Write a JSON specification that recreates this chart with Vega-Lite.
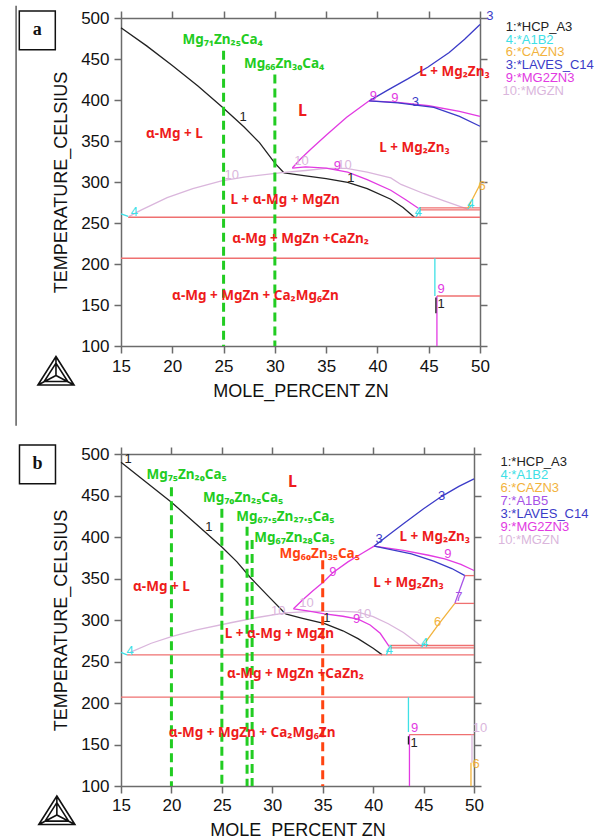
{
"$schema":"https://vega.github.io/schema/vega-lite/v6.json",
"padding":{"left":15,"top":5,"right":0,"bottom":0},
"background":"white",
"bounds":"flush",
"spacing":108,
"datasets":{
"ca":[
{"s":"A1","p":"HCP","x":15,"T":488},{"s":"A1","p":"HCP","x":17.5,"T":466},{"s":"A1","p":"HCP","x":20,"T":442},{"s":"A1","p":"HCP","x":22.5,"T":417},{"s":"A1","p":"HCP","x":25,"T":390},{"s":"A1","p":"HCP","x":27,"T":367},{"s":"A1","p":"HCP","x":28.5,"T":348},{"s":"A1","p":"HCP","x":30,"T":323},{"s":"A1","p":"HCP","x":30.9,"T":311},
{"s":"A2","p":"HCP","x":30.9,"T":311},{"s":"A2","p":"HCP","x":33,"T":307.5},{"s":"A2","p":"HCP","x":35,"T":304},{"s":"A2","p":"HCP","x":37.1,"T":299.5},{"s":"A2","p":"HCP","x":39,"T":292},{"s":"A2","p":"HCP","x":41.3,"T":279},{"s":"A2","p":"HCP","x":42.5,"T":269},{"s":"A2","p":"HCP","x":43.6,"T":257},
{"s":"A3","p":"MG2ZN3","x":31.7,"T":317},{"s":"A3","p":"MG2ZN3","x":32.5,"T":328},{"s":"A3","p":"MG2ZN3","x":33.5,"T":340},{"s":"A3","p":"MG2ZN3","x":35,"T":357},{"s":"A3","p":"MG2ZN3","x":37,"T":379},{"s":"A3","p":"MG2ZN3","x":39.2,"T":399},
{"s":"A4","p":"LAVES","x":39.2,"T":399},{"s":"A4","p":"LAVES","x":41,"T":412},{"s":"A4","p":"LAVES","x":43,"T":426},{"s":"A4","p":"LAVES","x":44.9,"T":440},{"s":"A4","p":"LAVES","x":47,"T":458},{"s":"A4","p":"LAVES","x":48.5,"T":474},{"s":"A4","p":"LAVES","x":50,"T":492},
{"s":"A5","p":"MG2ZN3","x":39.2,"T":399},{"s":"A5","p":"MG2ZN3","x":42,"T":397},{"s":"A5","p":"MG2ZN3","x":45,"T":393},{"s":"A5","p":"MG2ZN3","x":48,"T":386},{"s":"A5","p":"MG2ZN3","x":50,"T":380},
{"s":"A6","p":"LAVES","x":39.2,"T":399},{"s":"A6","p":"LAVES","x":42,"T":396.5},{"s":"A6","p":"LAVES","x":45.5,"T":391},{"s":"A6","p":"LAVES","x":48,"T":380},{"s":"A6","p":"LAVES","x":50,"T":368},
{"s":"A8","p":"MGZN","x":15.8,"T":258},{"s":"A8","p":"MGZN","x":17,"T":266},{"s":"A8","p":"MGZN","x":19.5,"T":281},{"s":"A8","p":"MGZN","x":22,"T":292},{"s":"A8","p":"MGZN","x":24.8,"T":301.5},{"s":"A8","p":"MGZN","x":27,"T":306},{"s":"A8","p":"MGZN","x":30.9,"T":311.7},{"s":"A8","p":"MGZN","x":33,"T":314},{"s":"A8","p":"MGZN","x":35,"T":316.5},{"s":"A8","p":"MGZN","x":37,"T":316.5},{"s":"A8","p":"MGZN","x":39,"T":312},{"s":"A8","p":"MGZN","x":41.3,"T":305},{"s":"A8","p":"MGZN","x":42.3,"T":297},{"s":"A8","p":"MGZN","x":44.5,"T":286},{"s":"A8","p":"MGZN","x":46.5,"T":277},{"s":"A8","p":"MGZN","x":48.8,"T":267},
{"s":"A7","p":"MG2ZN3","x":31.7,"T":317},{"s":"A7","p":"MG2ZN3","x":33,"T":318.5},{"s":"A7","p":"MG2ZN3","x":35,"T":317},{"s":"A7","p":"MG2ZN3","x":37.1,"T":312},{"s":"A7","p":"MG2ZN3","x":39,"T":303},{"s":"A7","p":"MG2ZN3","x":41.3,"T":290},{"s":"A7","p":"MG2ZN3","x":42.8,"T":278},{"s":"A7","p":"MG2ZN3","x":44.1,"T":267},
{"s":"A9","p":"tie","x":15.7,"T":257},{"s":"A9","p":"tie","x":50,"T":257},
{"s":"A10","p":"tie","x":15,"T":207},{"s":"A10","p":"tie","x":50,"T":207},
{"s":"A11","p":"tie","x":44.1,"T":266},{"s":"A11","p":"tie","x":50,"T":266},
{"s":"A12","p":"tie","x":44.1,"T":268.5},{"s":"A12","p":"tie","x":50,"T":268.5},
{"s":"A13","p":"tie","x":45.8,"T":161},{"s":"A13","p":"tie","x":50,"T":161},
{"s":"A14","p":"A1B2","x":45.6,"T":207},{"s":"A14","p":"A1B2","x":45.6,"T":161},
{"s":"A15","p":"MG2ZN3","x":45.8,"T":161},{"s":"A15","p":"MG2ZN3","x":45.8,"T":100},
{"s":"A16","p":"HCP","x":45.7,"T":159},{"s":"A16","p":"HCP","x":45.7,"T":140},
{"s":"A17","p":"A1B2","x":15,"T":261},{"s":"A17","p":"A1B2","x":15.7,"T":258},
{"s":"A18","p":"A1B2","x":43.75,"T":257.5},{"s":"A18","p":"A1B2","x":44.2,"T":266},
{"s":"A19","p":"A1B2","x":48.8,"T":267},{"s":"A19","p":"A1B2","x":49.3,"T":273},
{"s":"A20","p":"CAZN3","x":48.8,"T":268},{"s":"A20","p":"CAZN3","x":50,"T":297}
],
"cb":[
{"s":"B1","p":"HCP","x":15,"T":490},{"s":"B1","p":"HCP","x":17.5,"T":466},{"s":"B1","p":"HCP","x":20,"T":442},{"s":"B1","p":"HCP","x":22.5,"T":415},{"s":"B1","p":"HCP","x":25,"T":388},{"s":"B1","p":"HCP","x":26.5,"T":370},{"s":"B1","p":"HCP","x":27.8,"T":351.5},{"s":"B1","p":"HCP","x":29.5,"T":330},{"s":"B1","p":"HCP","x":31.3,"T":307.5},
{"s":"B2","p":"HCP","x":31.3,"T":307.5},{"s":"B2","p":"HCP","x":33,"T":302},{"s":"B2","p":"HCP","x":35.2,"T":295.5},{"s":"B2","p":"HCP","x":37,"T":287},{"s":"B2","p":"HCP","x":38.5,"T":277.5},{"s":"B2","p":"HCP","x":40,"T":266},{"s":"B2","p":"HCP","x":40.9,"T":258},
{"s":"B3","p":"MG2ZN3","x":32.1,"T":313.5},{"s":"B3","p":"MG2ZN3","x":33,"T":324},{"s":"B3","p":"MG2ZN3","x":34,"T":335},{"s":"B3","p":"MG2ZN3","x":35.1,"T":346},{"s":"B3","p":"MG2ZN3","x":36,"T":357},{"s":"B3","p":"MG2ZN3","x":37.5,"T":370},{"s":"B3","p":"MG2ZN3","x":39,"T":381},{"s":"B3","p":"MG2ZN3","x":40.1,"T":389},
{"s":"B4","p":"LAVES","x":40.1,"T":389},{"s":"B4","p":"LAVES","x":41.5,"T":402},{"s":"B4","p":"LAVES","x":43,"T":416},{"s":"B4","p":"LAVES","x":45,"T":434},{"s":"B4","p":"LAVES","x":46.8,"T":449},{"s":"B4","p":"LAVES","x":48.5,"T":461},{"s":"B4","p":"LAVES","x":50,"T":470},
{"s":"B5","p":"MG2ZN3","x":40.1,"T":389},{"s":"B5","p":"MG2ZN3","x":43,"T":384},{"s":"B5","p":"MG2ZN3","x":45.5,"T":378},{"s":"B5","p":"MG2ZN3","x":47.1,"T":373.6},{"s":"B5","p":"MG2ZN3","x":48.7,"T":367},{"s":"B5","p":"MG2ZN3","x":50,"T":359.6},
{"s":"B6","p":"LAVES","x":40.1,"T":389},{"s":"B6","p":"LAVES","x":43.8,"T":379.7},{"s":"B6","p":"LAVES","x":46,"T":371},{"s":"B6","p":"LAVES","x":47.8,"T":362},{"s":"B6","p":"LAVES","x":49.1,"T":353.5},
{"s":"B7","p":"A1B5","x":49.1,"T":353.5},{"s":"B7","p":"A1B5","x":48.1,"T":320},
{"s":"B8","p":"CAZN3","x":48.1,"T":320},{"s":"B8","p":"CAZN3","x":46.5,"T":295},{"s":"B8","p":"CAZN3","x":45,"T":270},
{"s":"B10","p":"MGZN","x":15.9,"T":261},{"s":"B10","p":"MGZN","x":18,"T":272},{"s":"B10","p":"MGZN","x":20,"T":280},{"s":"B10","p":"MGZN","x":22.5,"T":288},{"s":"B10","p":"MGZN","x":26,"T":297},{"s":"B10","p":"MGZN","x":28.5,"T":303},{"s":"B10","p":"MGZN","x":31.3,"T":308.5},{"s":"B10","p":"MGZN","x":34,"T":310.5},{"s":"B10","p":"MGZN","x":37,"T":310.5},{"s":"B10","p":"MGZN","x":38.5,"T":309.5},{"s":"B10","p":"MGZN","x":40,"T":304},{"s":"B10","p":"MGZN","x":41.5,"T":295.5},{"s":"B10","p":"MGZN","x":43,"T":285},{"s":"B10","p":"MGZN","x":44,"T":276},{"s":"B10","p":"MGZN","x":44.8,"T":268},
{"s":"B9","p":"MG2ZN3","x":32.1,"T":313.5},{"s":"B9","p":"MG2ZN3","x":33.5,"T":311},{"s":"B9","p":"MG2ZN3","x":35.2,"T":307.5},{"s":"B9","p":"MG2ZN3","x":37,"T":304.5},{"s":"B9","p":"MG2ZN3","x":38.5,"T":301},{"s":"B9","p":"MG2ZN3","x":39.7,"T":294},{"s":"B9","p":"MG2ZN3","x":40.7,"T":284},{"s":"B9","p":"MG2ZN3","x":41.6,"T":268},
{"s":"B11","p":"tie","x":15.6,"T":258},{"s":"B11","p":"tie","x":50,"T":258},
{"s":"B12","p":"tie","x":15,"T":207},{"s":"B12","p":"tie","x":50,"T":207},
{"s":"B13","p":"tie","x":41.6,"T":266.5},{"s":"B13","p":"tie","x":50,"T":266.5},
{"s":"B14","p":"tie","x":41.6,"T":269.3},{"s":"B14","p":"tie","x":50,"T":269.3},
{"s":"B15","p":"tie","x":49.1,"T":353.5},{"s":"B15","p":"tie","x":50,"T":353.5},
{"s":"B16","p":"tie","x":48.1,"T":320},{"s":"B16","p":"tie","x":50,"T":320},
{"s":"B17","p":"tie","x":43.6,"T":162},{"s":"B17","p":"tie","x":50,"T":162},
{"s":"B18","p":"A1B2","x":43.5,"T":207},{"s":"B18","p":"A1B2","x":43.5,"T":165},
{"s":"B19","p":"MG2ZN3","x":43.6,"T":162},{"s":"B19","p":"MG2ZN3","x":43.6,"T":100},
{"s":"B20","p":"HCP","x":43.5,"T":160},{"s":"B20","p":"HCP","x":43.5,"T":150},
{"s":"B21","p":"MGZN","x":49.8,"T":162},{"s":"B21","p":"MGZN","x":49.8,"T":128},
{"s":"B22","p":"CAZN3","x":49.7,"T":128},{"s":"B22","p":"CAZN3","x":49.7,"T":100},
{"s":"B23","p":"A1B2","x":15,"T":261},{"s":"B23","p":"A1B2","x":15.6,"T":258},
{"s":"B24","p":"A1B2","x":41.3,"T":258},{"s":"B24","p":"A1B2","x":41.6,"T":266},
{"s":"B25","p":"A1B2","x":44.8,"T":267},{"s":"B25","p":"A1B2","x":45.1,"T":272}
],
"la":[
{"t":"3","p":"LAVES","x":50.96,"T":502.8},{"t":"1","p":"HCP","x":26.9,"T":379},{"t":"9","p":"MG2ZN3","x":39.6,"T":405},{"t":"9","p":"MG2ZN3","x":41.7,"T":402},{"t":"3","p":"LAVES","x":43.7,"T":398},{"t":"10","p":"MGZN","x":32.6,"T":326},{"t":"10","p":"MGZN","x":36.8,"T":320.5},{"t":"9","p":"MG2ZN3","x":36.1,"T":319},{"t":"1","p":"HCP","x":37.4,"T":305},{"t":"10","p":"MGZN","x":25.8,"T":308},{"t":"4","p":"A1B2","x":16.3,"T":263},{"t":"4","p":"A1B2","x":44,"T":263},{"t":"4","p":"A1B2","x":49.1,"T":273},{"t":"6","p":"CAZN3","x":50.2,"T":295},{"t":"9","p":"MG2ZN3","x":46.2,"T":169},{"t":"1","p":"HCP","x":46.2,"T":151}
],
"lb":[
{"t":"1","p":"HCP","x":15.7,"T":494},{"t":"1","p":"HCP","x":23.7,"T":412},{"t":"3","p":"LAVES","x":46.8,"T":450},{"t":"3","p":"LAVES","x":40.6,"T":397},{"t":"9","p":"MG2ZN3","x":36,"T":357.5},{"t":"9","p":"MG2ZN3","x":47.4,"T":380},{"t":"7","p":"A1B5","x":48.5,"T":328},{"t":"10","p":"MGZN","x":33.4,"T":321},{"t":"10","p":"MGZN","x":30.6,"T":311},{"t":"10","p":"MGZN","x":39.1,"T":307.5},{"t":"9","p":"MG2ZN3","x":38.35,"T":301.4},{"t":"1","p":"HCP","x":35.4,"T":302.6},{"t":"4","p":"A1B2","x":15.9,"T":263},{"t":"4","p":"A1B2","x":41.6,"T":264},{"t":"4","p":"A1B2","x":45.1,"T":272},{"t":"6","p":"CAZN3","x":46.4,"T":297},{"t":"9","p":"MG2ZN3","x":44.1,"T":170},{"t":"1","p":"HCP","x":44.05,"T":152},{"t":"10","p":"MGZN","x":50.6,"T":170},{"t":"6","p":"CAZN3","x":50.2,"T":126}
],
"ra":[
{"t":"α-Mg + L","x":20.2,"T":358},{"t":"L + Mg₂Zn₃","x":47.5,"T":434.5},{"t":"L + Mg₂Zn₃","x":43.6,"T":342},{"t":"L + α-Mg + MgZn","x":31,"T":278.5},{"t":"α-Mg + MgZn +CaZn₂","x":32.5,"T":231},{"t":"α-Mg + MgZn + Ca₂Mg₆Zn","x":28.1,"T":160.5}
],
"rb":[
{"t":"α-Mg + L","x":19,"T":339.5},{"t":"L + Mg₂Zn₃","x":46.1,"T":400.5},{"t":"L + Mg₂Zn₃","x":43.5,"T":344},{"t":"L + α-Mg + MgZn","x":30.7,"T":283.4},{"t":"α-Mg + MgZn +CaZn₂","x":32.3,"T":235},{"t":"α-Mg + MgZn + Ca₂Mg₆Zn","x":28,"T":164}
],
"lga":[
{"t":"1:*HCP_A3","p":"HCP","x":52.52,"T":489.4},{"t":"4:*A1B2","p":"A1B2","x":52.52,"T":473.5},{"t":"6:*CAZN3","p":"CAZN3","x":52.52,"T":458},{"t":"3:*LAVES_C14","p":"LAVES","x":52.52,"T":442.7},{"t":"9:*MG2ZN3","p":"MG2ZN3","x":52.52,"T":426.8},{"t":"10:*MGZN","p":"MGZN","x":52.2,"T":411.3}
],
"lgb":[
{"t":"1:*HCP_A3","p":"HCP","x":52.63,"T":489.9},{"t":"4:*A1B2","p":"A1B2","x":52.63,"T":474.7},{"t":"6:*CAZN3","p":"CAZN3","x":52.63,"T":459},{"t":"7:*A1B5","p":"A1B5","x":52.63,"T":443.8},{"t":"3:*LAVES_C14","p":"LAVES","x":52.63,"T":427.8},{"t":"9:*MG2ZN3","p":"MG2ZN3","x":52.63,"T":412.5},{"t":"10:*MGZN","p":"MGZN","x":52.37,"T":396.9}
]
},
"vconcat":[
{
"width":359,"height":328,
"resolve":{"axis":{"x":"independent","y":"independent"}},
"layer":[
{"layer":[
{"data":{"values":[{"x":4.77,"T":515,"T2":2.8}]},"mark":{"type":"rule","color":"#333333","strokeWidth":1.2},
 "encoding":{"x":{"field":"x","type":"quantitative","scale":{"domain":[15,50],"nice":false,"zero":false},"axis":{"title":"MOLE_PERCENT ZN","values":[15,20,25,30,35,40,45,50],"labelPadding":5,"titlePadding":8}},
 "y":{"field":"T","type":"quantitative","scale":{"domain":[100,500],"nice":false,"zero":false},"axis":{"title":"TEMPERATURE_CELSIUS","values":[100,150,200,250,300,350,400,450,500],"labelPadding":5,"titlePadding":10}},"y2":{"field":"T2"}}},
{"data":{"name":"ca"},"mark":{"type":"line","strokeWidth":1.3},
 "encoding":{"x":{"field":"x","type":"quantitative","scale":{"domain":[15,50],"nice":false,"zero":false}},"y":{"field":"T","type":"quantitative","scale":{"domain":[100,500],"nice":false,"zero":false}},"detail":{"field":"s"},
 "color":{"field":"p","type":"nominal","legend":null,"scale":{"domain":["HCP","A1B2","CAZN3","A1B5","LAVES","MG2ZN3","MGZN","tie"],"range":["#222222","#3ee0e6","#f2b33d","#a652e6","#3b3bc8","#e23ae2","#dab6dc","#ef7070"]}}}},
{"data":{"values":[{"x":25,"top":460},{"x":30,"top":431}]},"mark":{"type":"rule","color":"#22cc22","strokeWidth":3,"strokeDash":[9,5]},
 "encoding":{"x":{"field":"x","type":"quantitative"},"y":{"field":"top","type":"quantitative"},"y2":{"datum":100}}},
{"data":{"name":"la"},"mark":{"type":"text","font":"Liberation Sans","fontSize":13,"align":"center","baseline":"middle"},
 "encoding":{"x":{"field":"x","type":"quantitative"},"y":{"field":"T","type":"quantitative"},"text":{"field":"t"},
 "color":{"field":"p","type":"nominal","legend":null,"scale":{"domain":["HCP","A1B2","CAZN3","A1B5","LAVES","MG2ZN3","MGZN","tie"],"range":["#222222","#3ee0e6","#f2b33d","#a652e6","#3b3bc8","#e23ae2","#dab6dc","#ef7070"]}}}},
{"data":{"name":"ra"},"mark":{"type":"text","font":"Noto Sans","fontWeight":"bold","fontSize":13.5,"align":"center","baseline":"middle","color":"#ee1c1c"},
 "encoding":{"x":{"field":"x","type":"quantitative"},"y":{"field":"T","type":"quantitative"},"text":{"field":"t"}}},
{"data":{"values":[{"t":"L","x":32.7,"T":387}]},"mark":{"type":"text","font":"Noto Sans","fontWeight":"bold","fontSize":16,"align":"center","baseline":"middle","color":"#ee1c1c"},
 "encoding":{"x":{"field":"x","type":"quantitative"},"y":{"field":"T","type":"quantitative"},"text":{"field":"t"}}},
{"data":{"values":[{"t":"Mg₇₁Zn₂₅Ca₄","x":24.9,"T":473.5},{"t":"Mg₆₆Zn₃₀Ca₄","x":30.9,"T":443.8}]},"mark":{"type":"text","font":"Noto Sans","fontWeight":"bold","fontSize":13.5,"align":"center","baseline":"middle","color":"#22cc22"},
 "encoding":{"x":{"field":"x","type":"quantitative"},"y":{"field":"T","type":"quantitative"},"text":{"field":"t"}}},
{"data":{"name":"lga"},"mark":{"type":"text","font":"Liberation Sans","fontSize":13,"align":"left","baseline":"middle"},
 "encoding":{"x":{"field":"x","type":"quantitative"},"y":{"field":"T","type":"quantitative"},"text":{"field":"t"},
 "color":{"field":"p","type":"nominal","legend":null,"scale":{"domain":["HCP","A1B2","CAZN3","A1B5","LAVES","MG2ZN3","MGZN","tie"],"range":["#222222","#3ee0e6","#f2b33d","#a652e6","#3b3bc8","#e23ae2","#dab6dc","#ef7070"]}}}},
{"data":{"values":[{"t":"a","x":6.84,"T":484.9}]},"mark":{"type":"point","shape":"M-1,-1.08L1,-1.08L1,1.08L-1,1.08Z","size":1296,"filled":false,"color":"#111111","strokeWidth":1.5,"opacity":1},
 "encoding":{"x":{"field":"x","type":"quantitative"},"y":{"field":"T","type":"quantitative"}}},
{"data":{"values":[{"t":"a","x":6.84,"T":484.9}]},"mark":{"type":"text","font":"Liberation Serif","fontWeight":"bold","fontSize":18,"align":"center","baseline":"middle","color":"#111111"},
 "encoding":{"x":{"field":"x","type":"quantitative"},"y":{"field":"T","type":"quantitative"},"text":{"field":"t"}}},
{"data":{"values":[{"x":8.66,"T":68.7}]},"mark":{"type":"point","shape":"M0,-0.8L0.95,0.7L-0.95,0.7Z M0,-0.45L0.62,0.52L-0.62,0.52Z M0,-0.8L0,0.2 M0.95,0.7L0,0.2 M-0.95,0.7L0,0.2","size":1444,"filled":false,"color":"#111111","strokeWidth":1.6,"opacity":1},
 "encoding":{"x":{"field":"x","type":"quantitative"},"y":{"field":"T","type":"quantitative"}}}
]},
{"data":{"values":[{"x":15,"T":100}]},"mark":{"type":"point","opacity":0},
 "encoding":{"x":{"field":"x","type":"quantitative","scale":{"domain":[15,50],"nice":false,"zero":false},"axis":{"orient":"top","labels":false,"title":null,"values":[15,20,25,30,35,40,45,50]}},
 "y":{"field":"T","type":"quantitative","scale":{"domain":[100,500],"nice":false,"zero":false},"axis":{"orient":"right","labels":false,"title":null,"values":[100,150,200,250,300,350,400,450,500]}}}}
]
},
{
"width":353,"height":332,
"resolve":{"axis":{"x":"independent","y":"independent"}},
"layer":[
{"layer":[
{"data":{"name":"cb"},"mark":{"type":"line","strokeWidth":1.3},
 "encoding":{"x":{"field":"x","type":"quantitative","scale":{"domain":[15,50],"nice":false,"zero":false},"axis":{"title":"MOLE_PERCENT ZN","values":[15,20,25,30,35,40,45,50],"labelPadding":4,"titlePadding":8}},
 "y":{"field":"T","type":"quantitative","scale":{"domain":[100,500],"nice":false,"zero":false},"axis":{"title":"TEMPERATURE_CELSIUS","values":[100,150,200,250,300,350,400,450,500],"labelPadding":5,"titlePadding":10}},"detail":{"field":"s"},
 "color":{"field":"p","type":"nominal","legend":null,"scale":{"domain":["HCP","A1B2","CAZN3","A1B5","LAVES","MG2ZN3","MGZN","tie"],"range":["#222222","#3ee0e6","#f2b33d","#a652e6","#3b3bc8","#e23ae2","#dab6dc","#ef7070"]}}}},
{"data":{"values":[{"x":20,"top":460},{"x":25,"top":434},{"x":27.5,"top":412.5},{"x":28,"top":396.5}]},"mark":{"type":"rule","color":"#22cc22","strokeWidth":3,"strokeDash":[9,5]},
 "encoding":{"x":{"field":"x","type":"quantitative"},"y":{"field":"top","type":"quantitative"},"y2":{"datum":100}}},
{"data":{"values":[{"x":35,"top":372}]},"mark":{"type":"rule","color":"#ff4411","strokeWidth":3,"strokeDash":[9,5]},
 "encoding":{"x":{"field":"x","type":"quantitative"},"y":{"field":"top","type":"quantitative"},"y2":{"datum":100}}},
{"data":{"name":"lb"},"mark":{"type":"text","font":"Liberation Sans","fontSize":13,"align":"center","baseline":"middle"},
 "encoding":{"x":{"field":"x","type":"quantitative"},"y":{"field":"T","type":"quantitative"},"text":{"field":"t"},
 "color":{"field":"p","type":"nominal","legend":null,"scale":{"domain":["HCP","A1B2","CAZN3","A1B5","LAVES","MG2ZN3","MGZN","tie"],"range":["#222222","#3ee0e6","#f2b33d","#a652e6","#3b3bc8","#e23ae2","#dab6dc","#ef7070"]}}}},
{"data":{"name":"rb"},"mark":{"type":"text","font":"Noto Sans","fontWeight":"bold","fontSize":13.5,"align":"center","baseline":"middle","color":"#ee1c1c"},
 "encoding":{"x":{"field":"x","type":"quantitative"},"y":{"field":"T","type":"quantitative"},"text":{"field":"t"}}},
{"data":{"values":[{"t":"L","x":32,"T":466.7}]},"mark":{"type":"text","font":"Noto Sans","fontWeight":"bold","fontSize":16,"align":"center","baseline":"middle","color":"#ee1c1c"},
 "encoding":{"x":{"field":"x","type":"quantitative"},"y":{"field":"T","type":"quantitative"},"text":{"field":"t"}}},
{"data":{"values":[{"t":"Mg₇₅Zn₂₀Ca₅","x":21.5,"T":474.7},{"t":"Mg₇₀Zn₂₅Ca₅","x":27.1,"T":447},{"t":"Mg₆₇.₅Zn₂₇.₅Ca₅","x":31.3,"T":423.7},{"t":"Mg₆₇Zn₂₈Ca₅","x":32.2,"T":399}]},"mark":{"type":"text","font":"Noto Sans","fontWeight":"bold","fontSize":13.5,"align":"center","baseline":"middle","color":"#22cc22"},
 "encoding":{"x":{"field":"x","type":"quantitative"},"y":{"field":"T","type":"quantitative"},"text":{"field":"t"}}},
{"data":{"values":[{"t":"Mg₆₀Zn₃₅Ca₅","x":34.7,"T":380}]},"mark":{"type":"text","font":"Noto Sans","fontWeight":"bold","fontSize":13.5,"align":"center","baseline":"middle","color":"#ff4411"},
 "encoding":{"x":{"field":"x","type":"quantitative"},"y":{"field":"T","type":"quantitative"},"text":{"field":"t"}}},
{"data":{"name":"lgb"},"mark":{"type":"text","font":"Liberation Sans","fontSize":13,"align":"left","baseline":"middle"},
 "encoding":{"x":{"field":"x","type":"quantitative"},"y":{"field":"T","type":"quantitative"},"text":{"field":"t"},
 "color":{"field":"p","type":"nominal","legend":null,"scale":{"domain":["HCP","A1B2","CAZN3","A1B5","LAVES","MG2ZN3","MGZN","tie"],"range":["#222222","#3ee0e6","#f2b33d","#a652e6","#3b3bc8","#e23ae2","#dab6dc","#ef7070"]}}}},
{"data":{"values":[{"t":"b","x":6.72,"T":487.5}]},"mark":{"type":"point","shape":"M-1,-1.08L1,-1.08L1,1.08L-1,1.08Z","size":1296,"filled":false,"color":"#111111","strokeWidth":1.5,"opacity":1},
 "encoding":{"x":{"field":"x","type":"quantitative"},"y":{"field":"T","type":"quantitative"}}},
{"data":{"values":[{"t":"b","x":6.72,"T":487.5}]},"mark":{"type":"text","font":"Liberation Serif","fontWeight":"bold","fontSize":18,"align":"center","baseline":"middle","color":"#111111"},
 "encoding":{"x":{"field":"x","type":"quantitative"},"y":{"field":"T","type":"quantitative"},"text":{"field":"t"}}},
{"data":{"values":[{"x":8.64,"T":69.6}]},"mark":{"type":"point","shape":"M0,-0.8L0.95,0.7L-0.95,0.7Z M0,-0.45L0.62,0.52L-0.62,0.52Z M0,-0.8L0,0.2 M0.95,0.7L0,0.2 M-0.95,0.7L0,0.2","size":1444,"filled":false,"color":"#111111","strokeWidth":1.6,"opacity":1},
 "encoding":{"x":{"field":"x","type":"quantitative"},"y":{"field":"T","type":"quantitative"}}}
]},
{"data":{"values":[{"x":15,"T":100}]},"mark":{"type":"point","opacity":0},
 "encoding":{"x":{"field":"x","type":"quantitative","scale":{"domain":[15,50],"nice":false,"zero":false},"axis":{"orient":"top","labels":false,"title":null,"values":[15,20,25,30,35,40,45,50]}},
 "y":{"field":"T","type":"quantitative","scale":{"domain":[100,500],"nice":false,"zero":false},"axis":{"orient":"right","labels":false,"title":null,"values":[100,150,200,250,300,350,400,450,500]}}}}
]
}
],
"config":{
"view":{"stroke":null},
"axis":{"grid":false,"domainColor":"#6b6b6b","domainWidth":1.5,"tickColor":"#6b6b6b","tickWidth":1.5,"tickSize":7,"labelFont":"Liberation Sans","labelFontSize":17,"labelColor":"#111111","labelFlush":false,"titleFont":"Liberation Sans","titleFontSize":18,"titleFontWeight":"normal","titleColor":"#111111"}
}
}
